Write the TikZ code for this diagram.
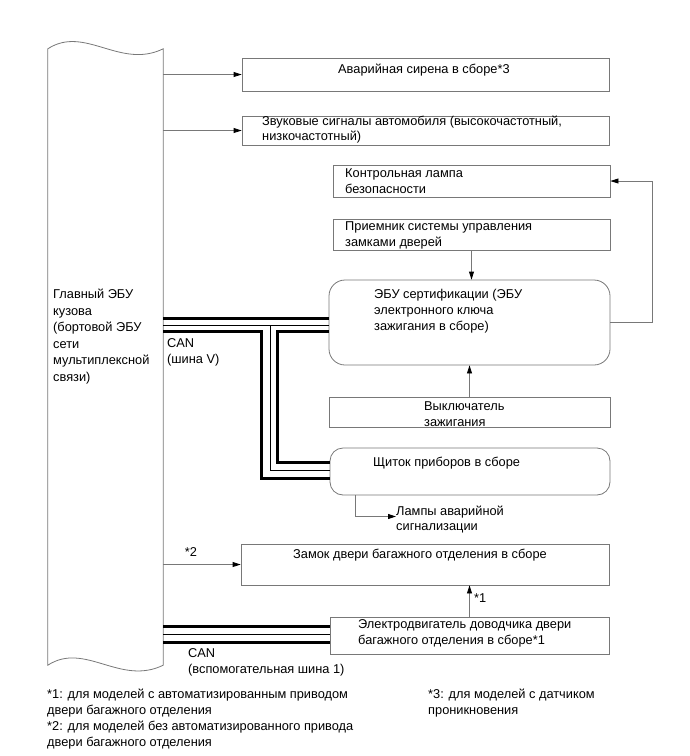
\documentclass[tikz,border=0pt]{standalone}
\usepackage{fontspec}
\setmainfont{Liberation Sans}
\usetikzlibrary{arrows.meta}
\definecolor{framegray}{RGB}{120,120,120}

\begin{document}
\begin{tikzpicture}[x=1pt,y=-1pt,font=\fontsize{12.8}{16}\selectfont]
    % Стили
    \tikzstyle{unit}=[draw=framegray, line width=0.8pt, rectangle, inner sep=0pt]
    \tikzstyle{roundunit}=[unit, rounded corners=16pt]
    \tikzstyle{txt}=[anchor=west, align=left, inner sep=0pt]
    \tikzstyle{signal}=[draw=framegray, line width=0.8pt, -{Triangle[length=8pt,width=5pt,color=black]}]
    \tikzstyle{canthick}=[line width=3pt]
    \tikzstyle{canthin}=[line width=1pt]

    \useasboundingbox (0,0) rectangle (690,756);

    % Главный ЭБУ кузова
    \node[minimum width=115pt, minimum height=616pt, inner sep=0pt] (mainecu) at (105.5,357) {};
    \draw[framegray, line width=0.8pt] (mainecu.north west) .. controls +(37,-24) and +(-43,21) .. (mainecu.north east)
        -- (mainecu.south east) .. controls +(-43,21) and +(37,-24) .. (mainecu.south west) -- cycle;
    \node[txt, font=\fontsize{12.8}{16.6}\selectfont] (ecutext) at (53,336.5) {Главный ЭБУ\\кузова\\(бортовой ЭБУ\\сети\\мультиплексной\\связи)};

    % Блоки
    \node[unit, minimum width=367pt, minimum height=33pt] (siren) at (425.5,74.5) {};
    \node[txt] (sirentext) at (338,70) {Аварийная сирена в сборе*3};
    \node[unit, minimum width=367pt, minimum height=29pt] (horn) at (425.5,130.5) {};
    \node[txt, font=\fontsize{12.8}{15}\selectfont] (horntext) at (262,129.5) {Звуковые сигналы автомобиля (высокочастотный,\\низкочастотный)};
    \node[unit, minimum width=277pt, minimum height=32pt] (lamp) at (471.5,181) {};
    \node[txt] (lamptext) at (345,181) {Контрольная лампа\\безопасности};
    \node[unit, minimum width=277pt, minimum height=31pt] (receiver) at (471.5,234.5) {};
    \node[txt] (receivertext) at (345,235) {Приемник системы управления\\замками дверей};
    \node[roundunit, minimum width=281pt, minimum height=85pt] (cert) at (469.5,322.5) {};
    \node[txt] (certtext) at (374,311) {ЭБУ сертификации (ЭБУ\\электронного ключа\\зажигания в сборе)};
    \node[unit, minimum width=281pt, minimum height=30pt] (ignsw) at (469.5,412) {};
    \node[txt] (ignswtext) at (424,414) {Выключатель\\зажигания};
    \node[roundunit, rounded corners=13pt, minimum width=280pt, minimum height=47pt] (meter) at (470,471.5) {};
    \node[txt] (metertext) at (373,463) {Щиток приборов в сборе};
    \node[txt, font=\fontsize{12.8}{15}\selectfont] (hazard) at (396,519.5) {Лампы аварийной\\сигнализации};
    \node[unit, minimum width=368pt, minimum height=41pt] (lock) at (425,564.5) {};
    \node[txt] (locktext) at (293,555) {Замок двери багажного отделения в сборе};
    \node[unit, minimum width=279pt, minimum height=37pt] (motor) at (469.5,635.5) {};
    \node[txt] (motortext) at (358,633.5) {Электродвигатель доводчика двери\\багажного отделения в сборе*1};

    % Метки
    \node[inner sep=0pt] (star2) at (191,552) {*2};
    \node[txt] (star1) at (474,598) {*1};
    \node[txt] (canv) at (167,352.5) {CAN\\(шина V)};
    \node[txt] (canaux) at (188,662) {CAN\\(вспомогательная шина 1)};

    % Сигнальные линии
    \draw[signal] (mainecu.east |- siren) -- (siren);
    \draw[signal] (mainecu.east |- horn) -- (horn);
    \draw[signal] (mainecu.east |- lock) -- (lock);
    \draw[signal] (receiver.south) -- (receiver.south |- cert.north);
    \draw[signal] (ignsw.north) -- (ignsw.north |- cert.south);
    \draw[signal] (cert.east) -- ++(42,0) |- (lamp.east);
    \draw[signal] (meter.south) ++(-115,0) |- ([yshift=3pt]hazard.west);
    \draw[signal] (motor.north) -- (motor.north |- lock.south);

    % CAN (шина V)
    \coordinate (vt) at (0,318.3);
    \coordinate (vm) at (0,325);
    \coordinate (vb) at (0,331.7);
    \coordinate (mt) at (0,462.3);
    \coordinate (mm) at (0,470);
    \coordinate (mb) at (0,478.3);
    \draw[canthick] (mainecu.east |- vt) -- (cert.west |- vt);
    \draw[canthin] (mainecu.east |- vm) -- (cert.west |- vm);
    \draw[canthick] (mainecu.east |- vb) -- ++(98.7,0) |- (meter.west |- mb);
    \draw[canthin] (mainecu.east |- vm) ++(107,0) |- (meter.west |- mm);
    \draw[canthick] (cert.west |- vb) -- ++(-50.7,0) |- (meter.west |- mt);

    % CAN (вспомогательная шина 1)
    \coordinate (at) at (0,626.7);
    \coordinate (am) at (0,634.3);
    \coordinate (ab) at (0,642.3);
    \draw[canthick] (mainecu.east |- at) -- (motor.west |- at);
    \draw[canthin] (mainecu.east |- am) -- (motor.west |- am);
    \draw[canthick] (mainecu.east |- ab) -- (motor.west |- ab);

    % Примечания
    \node[txt] (note1) at (47,703.5) {*1: для моделей с автоматизированным приводом\\двери багажного отделения};
    \node[txt] (note2) at (47,735.5) {*2: для моделей без автоматизированного привода\\двери багажного отделения};
    \node[txt] (note3) at (428,703) {*3: для моделей с датчиком\\проникновения};
\end{tikzpicture}
\end{document}
